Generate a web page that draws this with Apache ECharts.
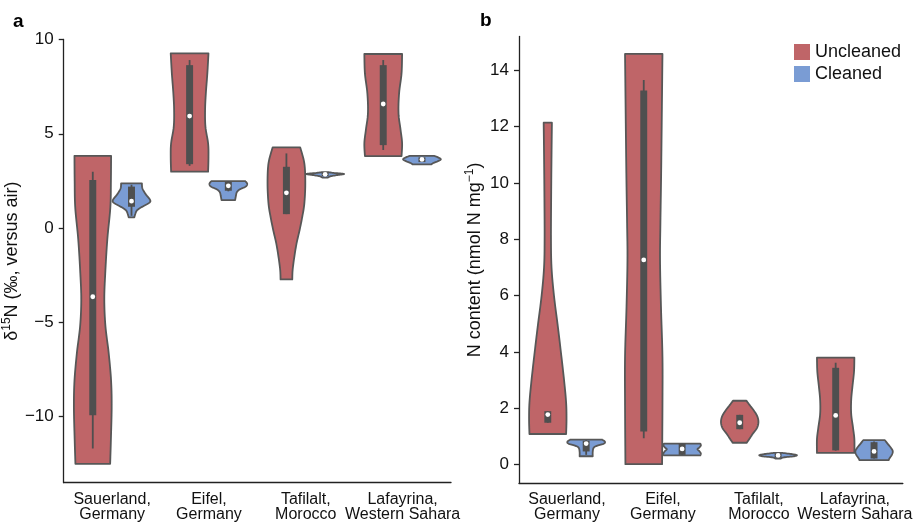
<!DOCTYPE html>
<html>
<head>
<meta charset="utf-8">
<script src="https://cdn.jsdelivr.net/npm/echarts@6/dist/echarts.min.js"></script>
<style>html,body{margin:0;padding:0;background:#fff}#c{width:915px;height:524px}</style>
</head>
<body>
<div id="c"></div>
<script>
// ---------- DATA ----------
const categories = ['Sauerland,\nGermany', 'Eifel,\nGermany', 'Tafilalt,\nMorocco', 'Lafayrina,\nWestern Sahara'];
const seriesNames = ['Uncleaned', 'Cleaned'];
const d15nTicks = [-10, -5, 0, 5, 10];
const nContentTicks = [0, 2, 4, 6, 8, 10, 12, 14];

// Violin outlines: [value, relative half-width] from top to bottom, one list per category
const d15nUncleanedShape = [
  [[3.83,0.97],[2.5,0.96],[1.1,0.93],[-0.6,0.77],[-2.4,0.66],[-3.8,0.61],[-5.2,0.67],[-6.6,0.84],[-8.1,0.97],[-9.5,1.0],[-11.2,0.96],[-12.5,0.92]],
  [[9.26,1.0],[8.2,0.94],[7.14,0.86],[6.25,0.82],[5.37,0.84],[4.49,0.98],[3.78,1.0],[2.99,0.98]],
  [[4.28,0.73],[3.43,0.95],[2.37,1.0],[1.31,0.95],[0.6,0.84],[-0.1,0.7],[-0.8,0.54],[-1.52,0.42],[-2.22,0.33],[-2.72,0.31]],
  [[9.23,1.0],[8.2,0.97],[7.14,0.84],[6.08,0.81],[5.2,0.92],[4.5,1.0],[3.82,0.97]]
];
const d15nCleanedShape = [
  [[2.37,0.55],[2.1,0.58],[1.8,0.75],[1.5,0.98],[1.35,0.95],[1.15,0.6],[0.95,0.3],[0.75,0.2],[0.57,0.15]],
  [[2.49,0.9],[2.35,1.0],[2.2,0.92],[2.05,0.6],[1.9,0.45],[1.7,0.4],[1.48,0.36]],
  [[2.97,0.12],[2.92,0.5],[2.87,1.0],[2.82,0.7],[2.75,0.3],[2.68,0.15]],
  [[3.83,0.65],[3.75,0.85],[3.65,1.0],[3.55,0.85],[3.45,0.6],[3.38,0.5]]
];
// Inner box: [whisker low, Q1, median, Q3, whisker high]
const d15nUncleanedBox = [[-11.68,-9.92,-3.64,2.55,2.99],[3.3,3.39,5.94,8.64,8.91],[0.74,0.74,1.87,3.25,3.96],[4.14,4.4,6.58,8.64,8.91]];
const d15nCleanedBox = [[0.65,1.13,1.43,2.2,2.3],[1.95,1.98,2.24,2.45,2.49],[2.75,2.75,2.85,2.93,2.93],[3.5,3.5,3.64,3.75,3.75]];

const nUncleanedShape = [
  [[12.14,0.22],[11.0,0.2],[9.5,0.18],[8.0,0.17],[7.0,0.2],[6.0,0.33],[5.0,0.52],[4.0,0.7],[3.0,0.87],[2.2,0.98],[1.6,1.0],[1.09,0.98]],
  [[14.58,1.0],[12.7,0.97],[10.34,0.93],[8.57,0.89],[7.27,0.87],[5.62,0.92],[3.83,1.0],[2.1,1.0],[0.02,0.98]],
  [[2.27,0.36],[2.1,0.55],[1.9,0.78],[1.7,0.95],[1.5,1.0],[1.3,0.92],[1.1,0.7],[0.95,0.55],[0.78,0.38]],
  [[3.8,1.0],[3.3,0.98],[2.8,0.9],[2.3,0.83],[1.8,0.83],[1.3,0.93],[0.9,1.0],[0.42,1.0]]
];
const nCleanedShape = [
  [[0.89,0.85],[0.82,1.0],[0.75,0.95],[0.68,0.6],[0.6,0.4],[0.45,0.35],[0.3,0.35]],
  [[0.75,0.97],[0.68,1.0],[0.6,0.9],[0.55,0.82],[0.48,0.92],[0.4,1.0],[0.33,0.97]],
  [[0.42,0.2],[0.38,0.7],[0.34,1.0],[0.3,0.85],[0.26,0.3],[0.22,0.15]],
  [[0.87,0.58],[0.75,0.72],[0.6,0.9],[0.48,1.0],[0.35,0.95],[0.22,0.82],[0.16,0.78]]
];
const nUncleanedBox = [[1.49,1.49,1.78,1.9,1.9],[0.94,1.18,7.27,13.28,13.66],[1.26,1.26,1.49,1.77,1.77],[0.5,0.51,1.75,3.44,3.62]];
const nCleanedBox = [[0.35,0.47,0.75,0.85,0.87],[0.35,0.35,0.56,0.75,0.75],[0.25,0.25,0.33,0.4,0.4],[0.22,0.22,0.47,0.8,0.82]];

// ---------- STYLE ----------
const RED = '#bf6568', BLUE = '#7a9cd4', EDGE = '#575757', INNER = '#4f4f4f';
const FONT = 'Liberation Sans, Arial, Helvetica, sans-serif';
const TXT = '#111';

function spline(pts, n) {
  const out = [];
  for (let k = 0; k < pts.length - 1; k++) {
    const p0 = pts[Math.max(k - 1, 0)], p1 = pts[k], p2 = pts[k + 1], p3 = pts[Math.min(k + 2, pts.length - 1)];
    for (let s = 0; s < n; s++) {
      const t = s / n, t2 = t * t, t3 = t2 * t;
      const f = (a, b, c, d) => 0.5 * ((2 * b) + (-a + c) * t + (2 * a - 5 * b + 4 * c - d) * t2 + (-a + 3 * b - 3 * c + d) * t3);
      out.push([f(p0[0], p1[0], p2[0], p3[0]), f(p0[1], p1[1], p2[1], p3[1])]);
    }
  }
  out.push(pts[pts.length - 1]);
  return out;
}

function makeRender(shapes, boxes, side, color) {
  return function (params, api) {
    const i = api.value(0);
    const band = api.size([1, 0])[0];
    const cx = api.coord([i, 0])[0] + side * 0.2 * band;
    const hw = 0.195 * band;
    const Y = v => api.coord([i, v])[1];
    const prof = shapes[i];
    const right = spline(prof.map(p => [cx + p[1] * hw, Y(p[0])]), 8);
    const left = spline(prof.map(p => [cx - p[1] * hw, Y(p[0])]), 8).reverse();
    const b = boxes[i];
    const bw = 0.072 * band;
    return {
      type: 'group',
      children: [
        { type: 'polygon', shape: { points: right.concat(left) },
          style: { fill: color, stroke: EDGE, lineWidth: 1.8, lineJoin: 'round' } },
        { type: 'line', shape: { x1: cx, y1: Y(b[0]), x2: cx, y2: Y(b[4]) },
          style: { stroke: INNER, lineWidth: 1.8 } },
        { type: 'rect', shape: { x: cx - bw / 2, y: Y(b[3]), width: bw, height: Math.max(Y(b[1]) - Y(b[3]), 1) },
          style: { fill: INNER } },
        { type: 'circle', shape: { cx: cx, cy: Y(b[2]), r: 2.4 }, style: { fill: '#fff' } }
      ]
    };
  };
}

const minus = v => String(v).replace('-', '\u2212');

function xAxisOpt(gi) {
  return {
    type: 'category', gridIndex: gi, data: categories, boundaryGap: true,
    axisLine: { onZero: false, lineStyle: { color: '#222', width: 1.3 } },
    axisTick: { alignWithLabel: true, length: 5, lineStyle: { color: '#222', width: 1.3 } },
    axisLabel: { color: TXT, fontSize: 16, lineHeight: 15, margin: 9, fontFamily: FONT, interval: 0 },
    splitLine: { show: false }
  };
}
function yAxisOpt(gi, min, max, ticks, name, gap) {
  return {
    type: 'value', gridIndex: gi, min: min, max: max,
    name: name, nameLocation: 'middle', nameGap: gap,
    nameTextStyle: { color: TXT, fontSize: 18, fontFamily: FONT,
      rich: { n: { fontSize: 18, fontFamily: FONT, color: TXT, lineHeight: 22 },
              s: { fontSize: 12, fontFamily: FONT, color: TXT, lineHeight: 22, verticalAlign: 'top', padding: [0, 0, 8, 0] } } },
    axisLine: { show: true, onZero: false, lineStyle: { color: '#222', width: 1.3 } },
    axisTick: { show: true, length: 5, customValues: ticks, lineStyle: { color: '#222', width: 1.3 } },
    axisLabel: { color: TXT, fontSize: 17, margin: 10, fontFamily: FONT, customValues: ticks, formatter: minus },
    splitLine: { show: false }
  };
}

const catIdx = categories.map((c, i) => [i]);

const option = {
  animation: false,
  backgroundColor: '#fff',
  grid: [
    { left: 63, right: 464, top: 39.5, bottom: 41.3 },
    { left: 519, right: 8, top: 36.5, bottom: 40.7 }
  ],
  xAxis: [xAxisOpt(0), xAxisOpt(1)],
  yAxis: [
    yAxisOpt(0, -13.5, 10, d15nTicks, '{n|\u03b4}{s|15}{n|N (\u2030, versus air)}', 32),
    yAxisOpt(1, -0.66, 15.2, nContentTicks, '{n|N content (nmol N mg}{s|\u22121}{n|)}', 33)
  ],
  legend: {
    data: seriesNames, orient: 'vertical', left: 794, top: 43, padding: 0,
    icon: 'rect', itemWidth: 16, itemHeight: 16, itemGap: 4,
    textStyle: { fontSize: 18, color: TXT, fontFamily: FONT },
    itemStyle: { borderWidth: 0 }
  },
  graphic: [
    { type: 'text', left: 13, top: 12, style: { text: 'a', font: 'bold 19px ' + FONT, fill: '#000' } },
    { type: 'text', left: 480, top: 11, style: { text: 'b', font: 'bold 19px ' + FONT, fill: '#000' } }
  ],
  series: [
    { type: 'custom', name: seriesNames[0], xAxisIndex: 0, yAxisIndex: 0, data: catIdx, encode: { x: 0 },
      itemStyle: { color: RED }, renderItem: makeRender(d15nUncleanedShape, d15nUncleanedBox, -1, RED) },
    { type: 'custom', name: seriesNames[1], xAxisIndex: 0, yAxisIndex: 0, data: catIdx, encode: { x: 0 },
      itemStyle: { color: BLUE }, renderItem: makeRender(d15nCleanedShape, d15nCleanedBox, 1, BLUE) },
    { type: 'custom', name: seriesNames[0], xAxisIndex: 1, yAxisIndex: 1, data: catIdx, encode: { x: 0 },
      itemStyle: { color: RED }, renderItem: makeRender(nUncleanedShape, nUncleanedBox, -1, RED) },
    { type: 'custom', name: seriesNames[1], xAxisIndex: 1, yAxisIndex: 1, data: catIdx, encode: { x: 0 },
      itemStyle: { color: BLUE }, renderItem: makeRender(nCleanedShape, nCleanedBox, 1, BLUE) }
  ]
};

const chart = echarts.init(document.getElementById('c'), null, { renderer: 'canvas' });
chart.setOption(option);
</script>
</body>
</html>
